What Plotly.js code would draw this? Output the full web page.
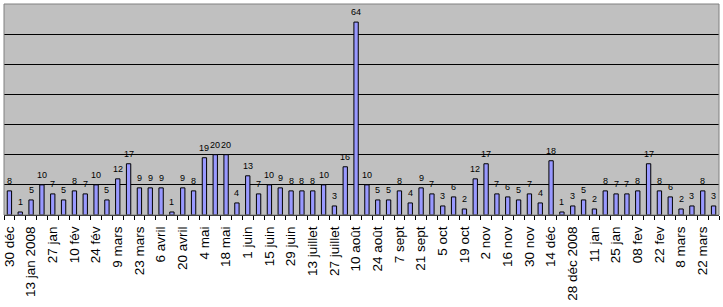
<!DOCTYPE html>
<html>
<head>
<meta charset="utf-8">
<script src="https://cdn.plot.ly/plotly-3.0.1.min.js"></script>
<style>
html,body{margin:0;padding:0;background:#fff;}
#chart{width:723px;height:307px;}
</style>
</head>
<body>
<div id="chart"></div>
<script>
// weekly counts (66 weeks)
const values = [8, 1, 5, 10, 7, 5, 8, 7, 10, 5, 12, 17, 9, 9, 9, 1, 9, 8, 19, 20, 20, 4, 13, 7, 10, 9, 8, 8, 8, 10, 3, 16, 64, 10, 5, 5, 8, 4, 9, 7, 3, 6, 2, 12, 17, 7, 6, 5, 7, 4, 18, 1, 3, 5, 2, 8, 7, 7, 8, 17, 8, 6, 2, 3, 8, 3];
// labels shown on every second week
const tickLabels = ["30 déc", "13 jan 2008", "27 jan", "10 fév", "24 fév", "9 mars", "23 mars", "6 avril", "20 avril", "4 mai", "18 mai", "1 juin", "15 juin", "29 juin", "13 juillet", "27 juillet", "10 août", "24 août", "7 sept", "21 sept", "5 oct", "19 oct", "2 nov", "16 nov", "30 nov", "14 déc", "28 déc 2008", "11 jan", "25 jan", "08 fev", "22 fev", "8 mars", "22 mars"];
const gridVals = [10, 20, 30, 40, 50, 60];

const xIdx = values.map((v, i) => i);
const tickVals = tickLabels.map((t, i) => i * 2);
const boundaries = [];
for (let i = 0; i <= values.length; i++) boundaries.push(i - 0.5);

const font = "Liberation Sans, Arial, sans-serif";

const traces = [{
  type: 'bar',
  x: xIdx,
  y: values,
  width: 0.4,
  marker: {color: '#9999FF', line: {color: '#000000', width: 1}},
  hoverinfo: 'none'
}, {
  type: 'scatter',
  x: [boundaries[0], boundaries[boundaries.length - 1]],
  y: [0, 0],
  xaxis: 'x2',
  mode: 'none',
  showlegend: false,
  hoverinfo: 'none'
}];

const annotations = values.map((v, i) => ({
  x: i, y: v, xref: 'x', yref: 'y',
  text: String(v),
  showarrow: false,
  xanchor: 'center', yanchor: 'bottom',
  yshift: 3,
  font: {family: font, size: 9, color: '#000'}
}));

const layout = {
  width: 723, height: 307,
  margin: {l: 4, r: 4, t: 4, b: 92},
  paper_bgcolor: '#ffffff',
  plot_bgcolor: '#C0C0C0',
  showlegend: false,
  bargap: 0,
  font: {family: font, color: '#000'},
  annotations: annotations,
  xaxis: {
    range: [-0.5, values.length - 0.5],
    tickmode: 'array',
    tickvals: tickVals,
    ticktext: tickLabels,
    tickangle: -90,
    ticks: '',
    ticklabelstandoff: 5,
    tickfont: {family: font, size: 13.5, color: '#000'},
    showgrid: false,
    zeroline: false,
    showline: true,
    linecolor: '#000',
    linewidth: 1,
    fixedrange: true
  },
  xaxis2: {
    overlaying: 'x',
    anchor: 'y',
    side: 'bottom',
    range: [-0.5, values.length - 0.5],
    tickmode: 'array',
    tickvals: boundaries,
    ticks: 'outside',
    ticklen: 4,
    tickcolor: '#000',
    tickwidth: 1,
    showticklabels: false,
    showgrid: false,
    zeroline: false,
    showline: false,
    fixedrange: true
  },
  yaxis: {
    range: [0, 70],
    tickmode: 'array',
    tickvals: gridVals,
    showticklabels: false,
    ticks: '',
    showgrid: true,
    gridcolor: '#000',
    gridwidth: 1,
    zeroline: false,
    showline: false,
    fixedrange: true
  },
  shapes: [{
    type: 'rect', xref: 'paper', yref: 'paper',
    x0: 0, x1: 1, y0: 0, y1: 1,
    line: {color: '#808080', width: 1},
    layer: 'above'
  }]
};

Plotly.newPlot('chart', traces, layout, {displayModeBar: false, staticPlot: true});
</script>
</body>
</html>
